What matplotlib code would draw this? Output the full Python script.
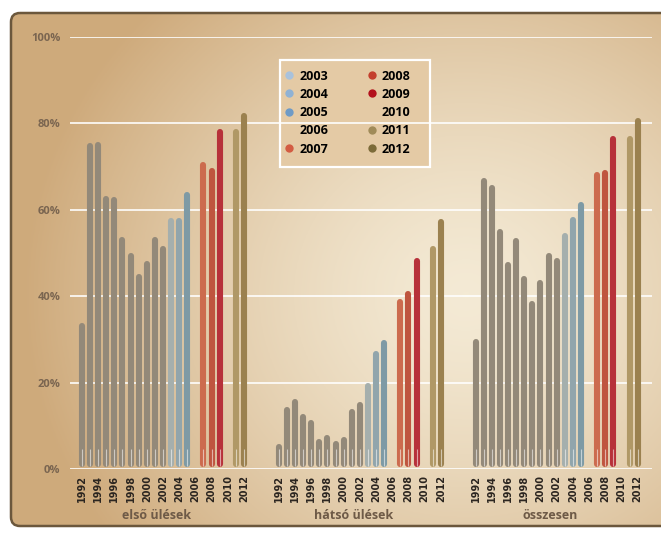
import numpy as np
import matplotlib.pyplot as plt
from matplotlib.lines import Line2D
from matplotlib.patches import FancyBboxPatch, Rectangle

plt.rcParams['font.family'] = ['Open Sans', 'DejaVu Sans']

years = list(range(1992, 2013))
groups = ["első ülések", "hátsó ülések", "összesen"]

# share of belted occupants, % (no survey in 2006 and 2010)
elso = [33.8, 75.4, 75.6, 63.2, 62.9, 53.6, 50.1, 45.1, 48.2, 53.7, 51.7,
        58.2, 58.1, 64.2, None, 71.1, 69.7, 78.7, None, 78.7, 82.3]
hatso = [5.7, 14.4, 16.2, 12.8, 11.3, 6.9, 7.8, 6.4, 7.5, 14.0, 15.5,
         19.8, 27.2, 29.9, None, 39.3, 41.2, 48.8, None, 51.6, 57.9]
osszesen = [30.2, 67.3, 65.7, 55.5, 48.0, 53.5, 44.6, 38.9, 43.7, 50.1, 48.8,
            54.6, 58.3, 61.9, None, 68.8, 69.1, 77.0, None, 77.1, 81.2]
series = [elso, hatso, osszesen]

gray = '#938979'
bar_colors = {2003: '#a5afad', 2004: '#91a5ac', 2005: '#7e9aa5',
              2007: '#cc6b4e', 2008: '#bf553f', 2009: '#b7313a',
              2011: '#b09866', 2012: '#9b814f'}
legend_colors = {2003: '#a9c2dc', 2004: '#90b2d4', 2005: '#6f9bc6', 2006: None,
                 2007: '#d35c42', 2008: '#c4402d', 2009: '#b3111c', 2010: None,
                 2011: '#a08b59', 2012: '#7c6b39'}

W, H = 661, 539
fig = plt.figure(figsize=(W / 100, H / 100), dpi=100)
fig.patch.set_facecolor('white')

# paper-like background inside a rounded frame
bg = fig.add_axes([0, 0, 1, 1], zorder=0)
bg.set_xlim(0, W)
bg.set_ylim(H, 0)
bg.axis('off')
gx, gy = np.meshgrid(np.linspace(0, 1, 300), np.linspace(0, 1, 250))
d = np.sqrt(((gx - 0.68) / 0.66) ** 2 + ((gy - 0.55) / 0.8) ** 2)
d = np.clip(d, 0, 1) ** 1.4
light = np.array([0.957, 0.918, 0.835])
dark = np.array([0.810, 0.668, 0.485])
img = light * (1 - d[..., None]) + dark * d[..., None]
frame = FancyBboxPatch((11, 13), W + 20, H - 26, boxstyle='round,pad=0,rounding_size=9',
                       facecolor='none', edgecolor='#6b573c', lw=1.8, zorder=2)
bg.add_patch(frame)
im = bg.imshow(img, extent=(11, W + 20, H - 13, 13), aspect='auto')
im.set_clip_path(frame)

# legend box
bg.add_patch(Rectangle((280, 60), 150, 107, facecolor='#e4caa5',
                       edgecolor='white', lw=1.6, zorder=3))

ax = fig.add_axes([70 / W, (H - 469) / H, 582 / W, 432 / H], zorder=2)
ax.patch.set_alpha(0)
ax.set_xlim(-1.48, 70.37)
ax.set_ylim(0, 100)
for s in ax.spines.values():
    s.set_visible(False)

for yv in range(0, 101, 20):
    ax.axhline(yv, color='white', lw=1.3, alpha=0.9, zorder=1)

step = 24.3
ticks, ticklabels = [], []
for g, vals in enumerate(series):
    for i, (yr, v) in enumerate(zip(years, vals)):
        x = i + g * step
        if yr % 2 == 0:
            ticks.append(x)
            ticklabels.append(str(yr))
        if v is None:
            continue
        c = bar_colors.get(yr, gray)
        ax.vlines(x, 1.15, v - 0.69, color=c, lw=4.4, capstyle='round', zorder=3)
        ax.vlines(x, 0.6, 4.6, color='white', lw=0.8, alpha=0.55, zorder=4)
    ax.text(9.2 + g * step, -10.8, groups[g], ha='center', va='center',
            fontsize=9, fontweight='bold', color='#6e5a47')

ax.set_xticks(ticks)
ax.set_xticklabels(ticklabels, rotation=90, fontsize=7, fontweight='bold',
                   color='#2b2520', family='DejaVu Sans')
ax.tick_params(axis='x', length=0, pad=4)
ax.set_yticks(range(0, 101, 20))
ax.set_yticklabels([f'{v}%' for v in range(0, 101, 20)], fontsize=8,
                   fontweight='bold', color='#7a6550')
ax.tick_params(axis='y', length=0, pad=7)

handles = []
for yr, c in legend_colors.items():
    if c is None:
        handles.append(Line2D([], [], ls='none', marker='o', ms=6, color='none', label=str(yr)))
    else:
        handles.append(Line2D([], [], ls='none', marker='o', ms=6, color=c,
                              markeredgecolor='none', label=str(yr)))
leg = fig.legend(handles=handles, ncol=2, loc='upper left',
                 bbox_to_anchor=(283 / W, 1 - 67 / H),
                 prop={'weight': 'bold', 'size': 9}, frameon=False,
                 handlelength=0.6, handletextpad=0.5, labelspacing=0.42,
                 columnspacing=3.2, borderpad=0.2, borderaxespad=0)
leg.set_zorder(5)

fig.savefig('out.png', dpi=100)
